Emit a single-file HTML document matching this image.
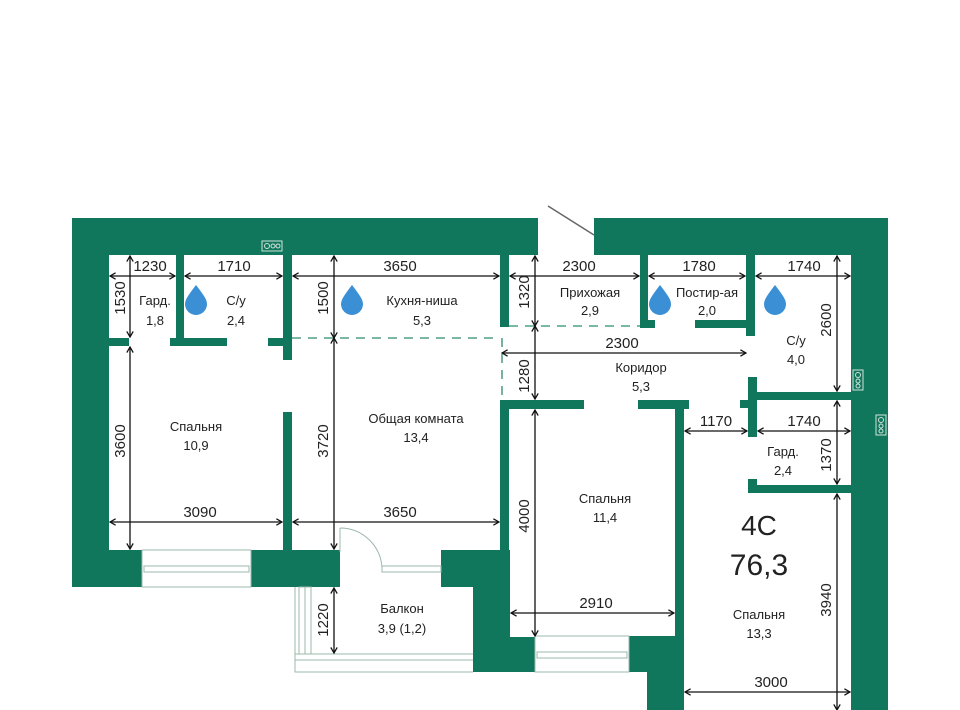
<!DOCTYPE html>
<html><head><meta charset="utf-8"><style>
html,body{margin:0;padding:0;background:#fff;}
svg{display:block;}
text{font-family:"Liberation Sans",sans-serif;fill:#222;}
.d{font-size:15px;text-anchor:middle;}
.r{font-size:13px;text-anchor:middle;}
</style></head><body>
<svg width="960" height="710" viewBox="0 0 960 710" xmlns="http://www.w3.org/2000/svg">
<defs>
<marker id="a" viewBox="0 0 10 10" refX="9" refY="5" markerWidth="8" markerHeight="8" orient="auto-start-reverse" markerUnits="userSpaceOnUse">
<path d="M2,1 L9,5 L2,9" fill="none" stroke="#111" stroke-width="1.6"/>
</marker>
</defs>
<g fill="#10775c">
<!-- outer walls -->
<rect x="72" y="218" width="466" height="37"/>
<rect x="594" y="218" width="294" height="37"/>
<rect x="72" y="218" width="37" height="369"/>
<rect x="851" y="218" width="37" height="492"/>
<rect x="72" y="550" width="70" height="37"/>
<rect x="251" y="550" width="89" height="37"/>
<rect x="441" y="550" width="69" height="37"/>
<rect x="473" y="587" width="37" height="85"/>
<rect x="473" y="637" width="62" height="35"/>
<rect x="629" y="636" width="55" height="36"/>
<rect x="647" y="636" width="37" height="74"/>
<!-- interior walls -->
<rect x="283" y="255" width="9" height="105"/>
<rect x="283" y="412" width="9" height="138"/>
<rect x="176" y="255" width="8" height="88"/>
<rect x="109" y="338" width="20" height="8"/>
<rect x="170" y="338" width="57" height="8"/>
<rect x="268" y="338" width="24" height="8"/>
<rect x="500" y="255" width="9" height="72"/>
<rect x="500" y="400" width="9" height="150"/>
<rect x="500" y="400" width="84" height="9"/>
<rect x="638" y="400" width="51" height="9"/>
<rect x="675" y="400" width="9" height="236"/>
<rect x="640" y="255" width="8" height="72"/>
<rect x="640" y="320" width="15" height="8"/>
<rect x="695" y="320" width="60" height="8"/>
<rect x="746" y="255" width="9" height="81"/>
<rect x="748" y="377" width="9" height="60"/>
<rect x="748" y="392" width="103" height="8"/>
<rect x="740" y="400" width="17" height="8"/>
<rect x="748" y="485" width="103" height="8"/>
<rect x="748" y="479" width="9" height="8"/>
</g>
<!-- windows -->
<g fill="none" stroke="#9cb8ad" stroke-width="1">
<rect x="142" y="550" width="109" height="37"/>
<rect x="144" y="566" width="105" height="6"/>
<rect x="535" y="636" width="94" height="36"/>
<rect x="537" y="652" width="90" height="6"/>
<rect x="382" y="566" width="59" height="6"/>
<path d="M295,587 V672 H473"/>
<path d="M295,654 H473 M295,660 H473"/>
<rect x="299" y="587" width="12" height="67"/>
<path d="M305,587 V654"/>
<path d="M340,528 V552 M340,528 A42,42 0 0 1 382,568"/>
</g>
<line x1="548" y1="206" x2="594" y2="235" stroke="#666" stroke-width="1.5"/>
<!-- dashed -->
<g stroke="#2e8a6e" stroke-width="1.3" stroke-dasharray="9,7" fill="none">
<path d="M292,338 H500"/>
<path d="M509,326 H640"/>
<path d="M502,338 V400"/>
</g>
<!-- vents -->
<g fill="none" stroke="#cfe3da" stroke-width="1">
<rect x="262" y="241" width="20" height="10"/>
<circle cx="267" cy="246" r="2.5"/><circle cx="273" cy="246" r="2"/><circle cx="278" cy="246" r="2"/>
<rect x="853" y="370" width="10" height="20"/>
<circle cx="858" cy="375" r="2.5"/><circle cx="858" cy="381" r="2"/><circle cx="858" cy="386" r="2"/>
<rect x="876" y="415" width="10" height="20"/>
<circle cx="881" cy="420" r="2.5"/><circle cx="881" cy="426" r="2"/><circle cx="881" cy="431" r="2"/>
</g>
<!-- drops -->
<g fill="#3b8fd4">
<path d="M196,285 C190,293 185,299 185,304 A11,11 0 0 0 207,304 C207,299 202,293 196,285Z"/>
<path d="M352,285 C346,293 341,299 341,304 A11,11 0 0 0 363,304 C363,299 358,293 352,285Z"/>
<path d="M660,285 C654,293 649,299 649,304 A11,11 0 0 0 671,304 C671,299 666,293 660,285Z"/>
<path d="M775,285 C769,293 764,299 764,304 A11,11 0 0 0 786,304 C786,299 781,293 775,285Z"/>
</g>
<!-- dimension lines -->
<g stroke="#111" stroke-width="1.3" marker-start="url(#a)" marker-end="url(#a)">
<line x1="110" y1="276" x2="175" y2="276"/>
<line x1="185" y1="276" x2="282" y2="276"/>
<line x1="293" y1="276" x2="499" y2="276"/>
<line x1="510" y1="276" x2="639" y2="276"/>
<line x1="649" y1="276" x2="745" y2="276"/>
<line x1="756" y1="276" x2="850" y2="276"/>
<line x1="130" y1="256" x2="130" y2="337"/>
<line x1="130" y1="347" x2="130" y2="549"/>
<line x1="334" y1="256" x2="334" y2="338"/>
<line x1="334" y1="338" x2="334" y2="549"/>
<line x1="334" y1="588" x2="334" y2="653"/>
<line x1="535" y1="256" x2="535" y2="326"/>
<line x1="535" y1="326" x2="535" y2="399"/>
<line x1="535" y1="410" x2="535" y2="636"/>
<line x1="837" y1="256" x2="837" y2="391"/>
<line x1="837" y1="401" x2="837" y2="484"/>
<line x1="837" y1="494" x2="837" y2="710"/>
<line x1="502" y1="353" x2="746" y2="353"/>
<line x1="685" y1="431" x2="747" y2="431"/>
<line x1="758" y1="431" x2="850" y2="431"/>
<line x1="110" y1="522" x2="282" y2="522"/>
<line x1="293" y1="522" x2="499" y2="522"/>
<line x1="511" y1="613" x2="674" y2="613"/>
<line x1="685" y1="692" x2="850" y2="692"/>
</g>
<!-- dim labels -->
<g class="d">
<text x="150" y="271" class="d">1230</text>
<text x="234" y="271" class="d">1710</text>
<text x="400" y="271" class="d">3650</text>
<text x="579" y="271" class="d">2300</text>
<text x="699" y="271" class="d">1780</text>
<text x="804" y="271" class="d">1740</text>
<text x="622" y="348" class="d">2300</text>
<text x="716" y="426" class="d">1170</text>
<text x="804" y="426" class="d">1740</text>
<text x="200" y="517" class="d">3090</text>
<text x="400" y="517" class="d">3650</text>
<text x="596" y="608" class="d">2910</text>
<text x="771" y="687" class="d">3000</text>
<text class="d" transform="translate(125,298) rotate(-90)">1530</text>
<text class="d" transform="translate(125,441) rotate(-90)">3600</text>
<text class="d" transform="translate(328,298) rotate(-90)">1500</text>
<text class="d" transform="translate(328,441) rotate(-90)">3720</text>
<text class="d" transform="translate(328,620) rotate(-90)">1220</text>
<text class="d" transform="translate(529,292) rotate(-90)">1320</text>
<text class="d" transform="translate(529,376) rotate(-90)">1280</text>
<text class="d" transform="translate(529,516) rotate(-90)">4000</text>
<text class="d" transform="translate(831,320) rotate(-90)">2600</text>
<text class="d" transform="translate(831,455) rotate(-90)">1370</text>
<text class="d" transform="translate(831,600) rotate(-90)">3940</text>
</g>
<!-- room labels -->
<g>
<text x="155" y="305" class="r">Гард.</text><text x="155" y="325" class="r">1,8</text>
<text x="236" y="305" class="r">С/у</text><text x="236" y="325" class="r">2,4</text>
<text x="422" y="305" class="r">Кухня-ниша</text><text x="422" y="325" class="r">5,3</text>
<text x="590" y="297" class="r">Прихожая</text><text x="590" y="315" class="r">2,9</text>
<text x="707" y="297" class="r">Постир-ая</text><text x="707" y="315" class="r">2,0</text>
<text x="796" y="345" class="r">С/у</text><text x="796" y="364" class="r">4,0</text>
<text x="641" y="372" class="r">Коридор</text><text x="641" y="391" class="r">5,3</text>
<text x="196" y="431" class="r">Спальня</text><text x="196" y="450" class="r">10,9</text>
<text x="416" y="423" class="r">Общая комната</text><text x="416" y="442" class="r">13,4</text>
<text x="605" y="503" class="r">Спальня</text><text x="605" y="522" class="r">11,4</text>
<text x="783" y="456" class="r">Гард.</text><text x="783" y="475" class="r">2,4</text>
<text x="759" y="619" class="r">Спальня</text><text x="759" y="638" class="r">13,3</text>
<text x="402" y="613" class="r">Балкон</text><text x="402" y="633" class="r">3,9 (1,2)</text>
<text x="759" y="535" style="font-size:28px;text-anchor:middle">4С</text>
<text x="759" y="575" style="font-size:30px;text-anchor:middle">76,3</text>
</g>
</svg>
</body></html>
